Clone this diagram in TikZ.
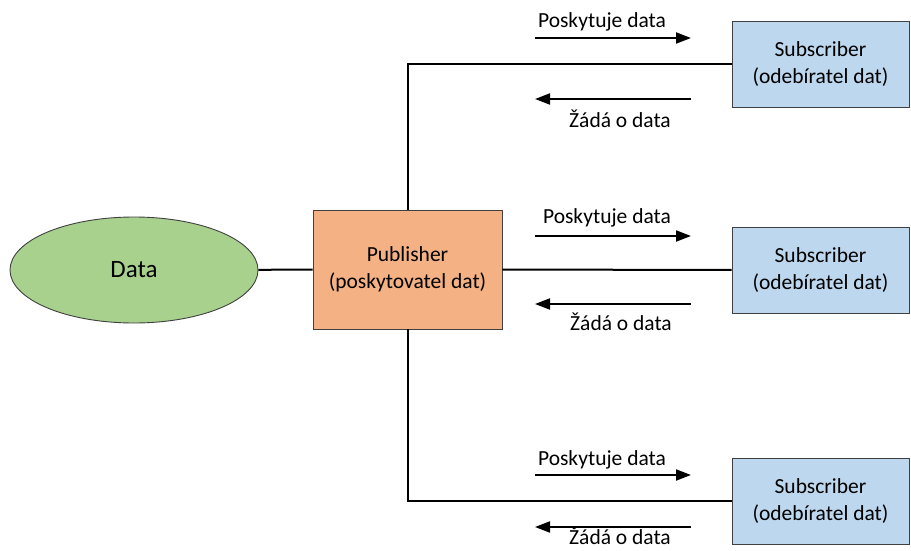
\documentclass[tikz,border=0pt]{standalone}
\usepackage{fontspec}
\setmainfont{Carlito}
\usetikzlibrary{shapes.geometric,arrows.meta}
\definecolor{datagreen}{HTML}{A9D18E}
\definecolor{pubfill}{HTML}{F4B183}
\definecolor{subfill}{HTML}{BDD7EE}
\definecolor{edgegray}{HTML}{404040}
\tikzset{
  every node/.style={font=\fontsize{21.5}{27}\selectfont, align=center, text=black},
  pubbox/.style={draw=edgegray, line width=0.9pt, fill=pubfill, inner sep=0pt,
    minimum width=189pt, minimum height=119pt},
  subbox/.style={draw=edgegray, line width=0.9pt, fill=subfill, inner sep=0pt,
    minimum width=177pt, minimum height=86pt},
  link/.style={line width=2pt, black},
  flow/.style={line width=2pt, black, -{Triangle[length=15pt,width=11pt]}},
  lbl/.style={inner sep=0pt},
}
\begin{document}
\begin{tikzpicture}[x=1pt,y=-1pt]
\useasboundingbox (0,0) rectangle (911,551);

% main nodes
\node[ellipse, draw=edgegray, line width=0.9pt, fill=datagreen,
      minimum width=248pt, minimum height=106pt,
      font=\fontsize{25}{30}\selectfont] (data) at (134,270) {Data};
\node[pubbox] (pub) at (407.5,269.5) {Publisher\\(poskytovatel dat)};
\node[subbox] (sub1) at (820.5,64.5) {Subscriber\\(odebíratel dat)};
\node[subbox] (sub2) at (820.5,270) {Subscriber\\(odebíratel dat)};
\node[subbox] (sub3) at (820.5,501) {Subscriber\\(odebíratel dat)};

% links between nodes
\draw[link] (data) -- (pub);
\draw[link] (pub) -- (sub2);
\draw[link] (pub.north) |- (sub1.west);
\draw[link] (pub.south) |- (sub3.west);

% end points of the flow arrows
\foreach \i/\yr/\yl in {1/38/99, 2/236/304, 3/475/527} {
  \coordinate (r\i a) at (535,\yr);
  \coordinate (r\i b) at (691,\yr);
  \coordinate (l\i a) at (691,\yl);
  \coordinate (l\i b) at (535,\yl);
}
\foreach \i in {1,2,3} {
  \draw[flow] (r\i a) -- (r\i b);
  \draw[flow] (l\i a) -- (l\i b);
}

% flow labels
\node[lbl] (p1) at (602,22) {Poskytuje data};
\node[lbl] (z1) at (620,119) {Žádá o data};
\node[lbl] (p2) at (607,218) {Poskytuje data};
\node[lbl] (z2) at (621,322) {Žádá o data};
\node[lbl] (p3) at (602,460) {Poskytuje data};
\node[lbl] (z3) at (620,536) {Žádá o data};
\end{tikzpicture}
\end{document}
